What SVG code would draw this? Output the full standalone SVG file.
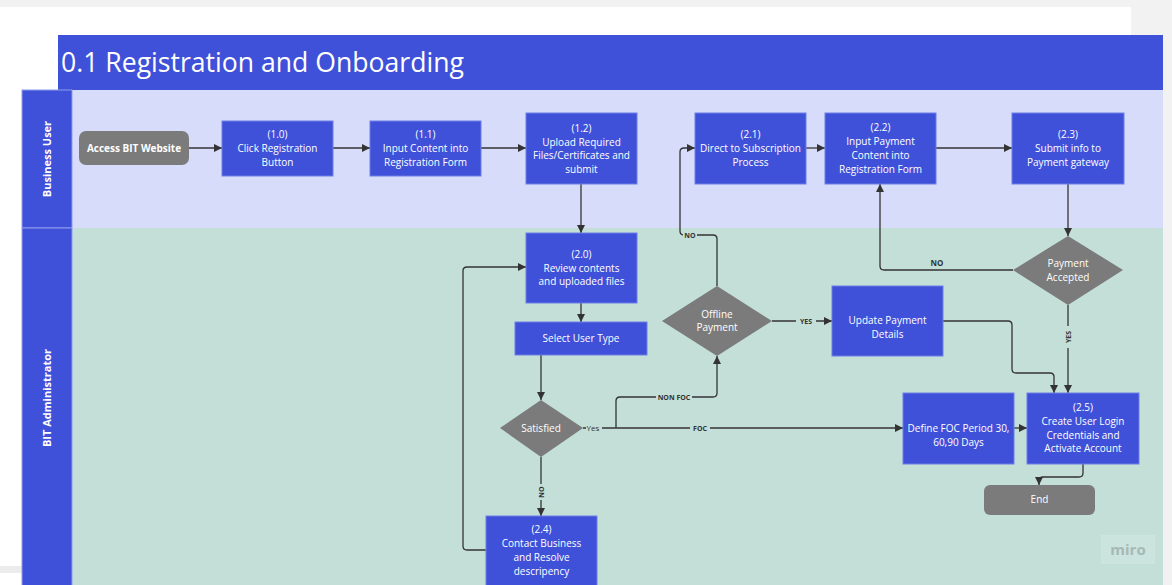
<svg xmlns="http://www.w3.org/2000/svg" width="1172" height="585" viewBox="0 0 1172 585">
<defs>
<style>
.bg{fill:#f2f2f2}
.hdr{fill:#3f51d9}
.node{fill:#3f51d9;stroke:#6f7fe6;stroke-width:1}
.gray{fill:#7b7b7b}
.t{font-family:"Open Sans","Noto Sans",sans-serif;font-size:10px;fill:#ffffff;text-anchor:middle}
.tb{font-family:"Open Sans","Noto Sans",sans-serif;font-size:10px;fill:#ffffff;text-anchor:middle;font-weight:bold}
.lane{font-family:"Open Sans","Noto Sans",sans-serif;font-size:11px;fill:#ffffff;text-anchor:middle;font-weight:bold}
.title{font-family:"Open Sans","Noto Sans",sans-serif;font-size:26.6px;fill:#ffffff}
.c{fill:none;stroke:#333333;stroke-width:1.3}
.lbl{font-family:"Open Sans","Noto Sans",sans-serif;font-size:7px;fill:#333333;text-anchor:middle;font-weight:bold}
.lblr{font-family:"Open Sans","Noto Sans",sans-serif;font-size:8px;fill:#333333;text-anchor:middle}
</style>
<marker id="ah" markerWidth="9" markerHeight="9" refX="8" refY="4" orient="auto" markerUnits="userSpaceOnUse">
<path d="M0,0 L8,4 L0,8 Z" fill="#333333"/>
</marker>
</defs>

<!-- backdrop -->
<rect x="0" y="0" width="1172" height="585" class="bg"/>
<rect x="0" y="7" width="1131" height="578" fill="#ffffff"/>
<rect x="0" y="566" width="22" height="7" fill="#ececec"/>

<!-- title -->
<g id="title">
<rect x="58" y="35" width="1105" height="55" class="hdr"/>
<text x="61" y="72" class="title">0.1 Registration and Onboarding</text>
</g>

<!-- lanes -->
<g id="lane-business">
<rect x="72" y="90" width="1091" height="138" fill="#d6dcfa"/>
<rect x="22" y="90" width="50" height="138" class="hdr" stroke="#8e9bec" stroke-width="1"/>
<text transform="translate(51,159) rotate(-90)" class="lane">Business User</text>
</g>
<g id="lane-admin">
<rect x="72" y="228" width="1091" height="357" fill="#c3dfd8"/>
<rect x="22" y="228" width="50" height="360" class="hdr" stroke="#8e9bec" stroke-width="1"/>
<text transform="translate(51,398) rotate(-90)" class="lane">BIT Administrator</text>
</g>

<!-- connectors -->
<g id="connectors">
<path class="c" marker-end="url(#ah)" d="M189,148 H222"/>
<path class="c" marker-end="url(#ah)" d="M333,148 H370"/>
<path class="c" marker-end="url(#ah)" d="M481,148 H526"/>
<path class="c" marker-end="url(#ah)" d="M581,184 V233"/>
<path class="c" marker-end="url(#ah)" d="M581,303 V322"/>
<path class="c" marker-end="url(#ah)" d="M541,355 V400"/>
<path class="c" marker-end="url(#ah)" d="M583,428 H903"/>
<path class="c" marker-end="url(#ah)" d="M616,428 V401 Q616,397 620,397 H713 Q717,397 717,393 V356"/>
<path class="c" marker-end="url(#ah)" d="M541,457 V516"/>
<path class="c" marker-end="url(#ah)" d="M486,550 H467 Q463,550 463,546 V271 Q463,267 467,267 H526"/>
<path class="c" marker-end="url(#ah)" d="M717,286 V239 Q717,235 713,235 H684 Q680,235 680,231 V152 Q680,148 684,148 H695"/>
<path class="c" marker-end="url(#ah)" d="M772,321 H832"/>
<path class="c" marker-end="url(#ah)" d="M806,148 H825"/>
<path class="c" marker-end="url(#ah)" d="M936,148 H1012"/>
<path class="c" marker-end="url(#ah)" d="M1068,184 V236"/>
<path class="c" marker-end="url(#ah)" d="M1013,270 H884 Q880,270 880,266 V184"/>
<path class="c" marker-end="url(#ah)" d="M1068,305 V393"/>
<path class="c" marker-end="url(#ah)" d="M943,321 H1008 Q1012,321 1012,325 V369 Q1012,373 1016,373 H1050 Q1054,373 1054,377 V393"/>
<path class="c" marker-end="url(#ah)" d="M1014,428 H1027"/>
<path class="c" marker-end="url(#ah)" d="M1083,464 V473 Q1083,477 1079,477 H1043 Q1039,477 1039,481 V485"/>
<!-- labels -->
<rect x="586" y="423" width="16" height="10" fill="#c3dfd8"/>
<text x="593" y="431" class="lblr">Yes</text>
<rect x="690" y="423" width="20" height="10" fill="#c3dfd8"/>
<text x="700" y="430.5" class="lbl">FOC</text>
<rect x="656" y="392" width="36" height="10" fill="#c3dfd8"/>
<text x="674" y="399.5" class="lbl">NON FOC</text>
<rect x="536" y="484" width="10" height="16" fill="#c3dfd8"/>
<text transform="translate(543.5,492) rotate(-90)" class="lbl">NO</text>
<rect x="683" y="230" width="14" height="10" fill="#c3dfd8"/>
<text x="690" y="237.5" class="lbl">NO</text>
<rect x="796" y="316" width="20" height="10" fill="#c3dfd8"/>
<text x="806" y="323.5" class="lbl">YES</text>
<text x="937" y="266" class="lblr" font-weight="bold">NO</text>
<rect x="1063" y="326" width="10" height="22" fill="#c3dfd8"/>
<text transform="translate(1070.5,337) rotate(-90)" class="lbl">YES</text>
</g>

<!-- nodes -->
<g id="n-access">
<rect x="79" y="131" width="110" height="34" rx="7" class="gray"/>
<text x="134" y="151.5" class="tb">Access BIT Website</text>
</g>
<g id="n-1-0">
<rect x="222" y="121" width="111" height="55" class="node"/>
<text x="277.5" class="t"><tspan x="277.5" y="138">(1.0)</tspan><tspan x="277.5" y="152">Click Registration</tspan><tspan x="277.5" y="166">Button</tspan></text>
</g>
<g id="n-1-1">
<rect x="370" y="121" width="111" height="55" class="node"/>
<text x="425.5" class="t"><tspan x="425.5" y="138">(1.1)</tspan><tspan x="425.5" y="152">Input Content into</tspan><tspan x="425.5" y="166">Registration Form</tspan></text>
</g>
<g id="n-1-2">
<rect x="526" y="113" width="111" height="71" class="node"/>
<text x="581.5" class="t"><tspan x="581.5" y="131.5">(1.2)</tspan><tspan x="581.5" y="145.5">Upload Required</tspan><tspan x="581.5" y="159">Files/Certificates and</tspan><tspan x="581.5" y="173">submit</tspan></text>
</g>
<g id="n-2-1">
<rect x="695" y="113" width="111" height="71" class="node"/>
<text x="750.5" class="t"><tspan x="750.5" y="138">(2.1)</tspan><tspan x="750.5" y="152">Direct to Subscription</tspan><tspan x="750.5" y="166">Process</tspan></text>
</g>
<g id="n-2-2">
<rect x="825" y="113" width="111" height="71" class="node"/>
<text x="880.5" class="t"><tspan x="880.5" y="131">(2.2)</tspan><tspan x="880.5" y="145">Input Payment</tspan><tspan x="880.5" y="159">Content into</tspan><tspan x="880.5" y="173">Registration Form</tspan></text>
</g>
<g id="n-2-3">
<rect x="1012" y="113" width="112" height="71" class="node"/>
<text x="1068" class="t"><tspan x="1068" y="138">(2.3)</tspan><tspan x="1068" y="152">Submit info to</tspan><tspan x="1068" y="166">Payment gateway</tspan></text>
</g>
<g id="n-2-0">
<rect x="526" y="233" width="111" height="70" class="node"/>
<text x="581.5" class="t"><tspan x="581.5" y="257.5">(2.0)</tspan><tspan x="581.5" y="271.5">Review contents</tspan><tspan x="581.5" y="285">and uploaded files</tspan></text>
</g>
<g id="n-select">
<rect x="515" y="322" width="132" height="33" class="node"/>
<text x="581" y="341.5" class="t">Select User Type</text>
</g>
<g id="n-satisfied">
<polygon points="541,400 583,428 541,457 500,428" class="gray"/>
<text x="541" y="431.5" class="t">Satisfied</text>
</g>
<g id="n-offline">
<polygon points="717,286 772,321 717,356 662,321" class="gray"/>
<text x="717" class="t"><tspan x="717" y="317.5">Offline</tspan><tspan x="717" y="331">Payment</tspan></text>
</g>
<g id="n-payacc">
<polygon points="1068,236 1123,270 1068,305 1013,270" class="gray"/>
<text x="1068" class="t"><tspan x="1068" y="266.5">Payment</tspan><tspan x="1068" y="280.5">Accepted</tspan></text>
</g>
<g id="n-update">
<rect x="832" y="286" width="111" height="70" class="node"/>
<text x="887.5" class="t"><tspan x="887.5" y="323.5">Update Payment</tspan><tspan x="887.5" y="337.5">Details</tspan></text>
</g>
<g id="n-foc">
<rect x="903" y="393" width="111" height="71" class="node"/>
<text x="958.5" class="t"><tspan x="958.5" y="431.5">Define FOC Period 30,</tspan><tspan x="958.5" y="445.5">60,90 Days</tspan></text>
</g>
<g id="n-2-5">
<rect x="1027" y="393" width="112" height="71" class="node"/>
<text x="1083" class="t"><tspan x="1083" y="410.5">(2.5)</tspan><tspan x="1083" y="424.5">Create User Login</tspan><tspan x="1083" y="438.5">Credentials and</tspan><tspan x="1083" y="452">Activate Account</tspan></text>
</g>
<g id="n-end">
<rect x="984" y="485" width="111" height="30" rx="6" class="gray"/>
<text x="1039.5" y="502.5" class="t">End</text>
</g>
<g id="n-2-4">
<rect x="486" y="516" width="111" height="72" class="node"/>
<text x="541.5" class="t"><tspan x="541.5" y="532.5">(2.4)</tspan><tspan x="541.5" y="546.5">Contact Business</tspan><tspan x="541.5" y="560.5">and Resolve</tspan><tspan x="541.5" y="574.5">descripency</tspan></text>
</g>

<!-- watermark -->
<g id="watermark">
<rect x="1101" y="535" width="54" height="29" fill="#cbe4de"/>
<text x="1128" y="555" font-family="Open Sans, Noto Sans, sans-serif" font-size="15" fill="#a7b9b5" text-anchor="middle" font-weight="bold">miro</text>
</g>
</svg>
